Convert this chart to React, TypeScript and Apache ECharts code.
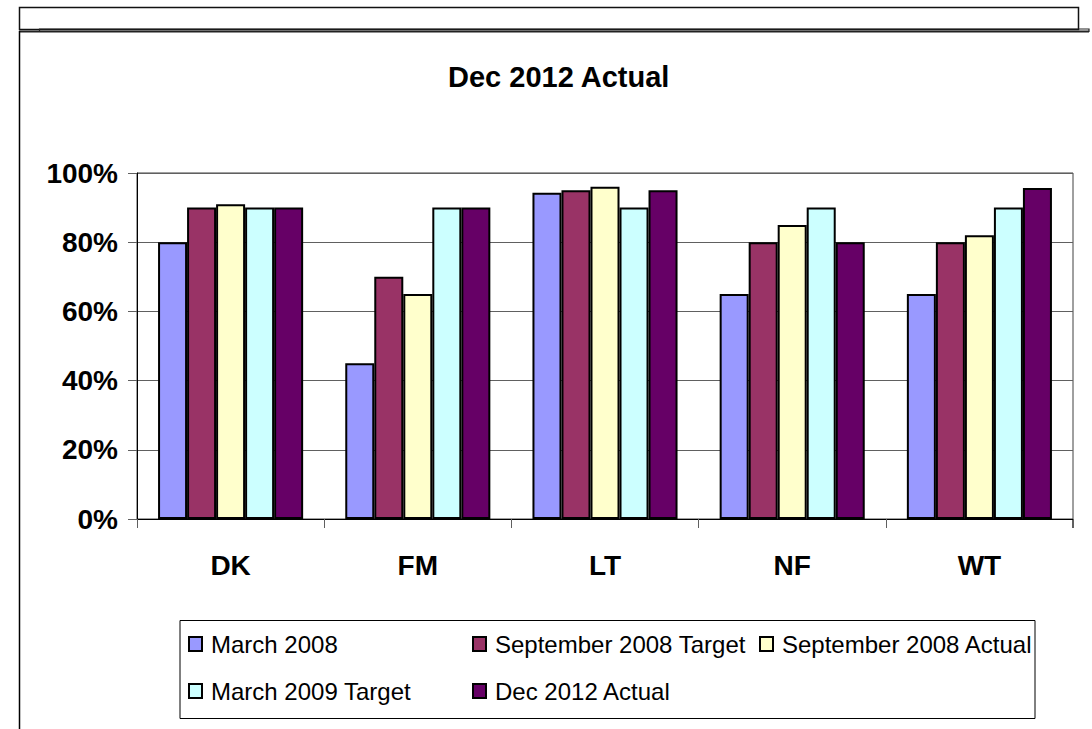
import React, { useEffect, useRef } from "react";
import * as echarts from "echarts";

const categories = ["DK", "FM", "LT", "NF", "WT"];
const seriesNames = [
  "March 2008",
  "September 2008 Target",
  "September 2008 Actual",
  "March 2009 Target",
  "Dec 2012 Actual",
];
const march2008 = [80, 45, 94.3, 65, 65];
const sep2008Target = [90, 70, 95, 80, 80];
const sep2008Actual = [91, 65, 96, 85, 82];
const mar2009Target = [90, 90, 90, 90, 90];
const dec2012Actual = [90, 90, 95, 80, 95.7];
const seriesValues = [march2008, sep2008Target, sep2008Actual, mar2009Target, dec2012Actual];
const colors = ["#9999FF", "#993366", "#FFFFCC", "#CCFFFF", "#660066"];
const yTicks = [0, 20, 40, 60, 80, 100];

const FONT = "'Liberation Sans', Arial, sans-serif";

// legend item positions (layout only)
const legendPos = [
  { left: 188, top: 632 },
  { left: 472, top: 632 },
  { left: 759, top: 632 },
  { left: 188, top: 679 },
  { left: 472, top: 679 },
];

export default function App() {
  const ref = useRef<HTMLDivElement>(null);
  useEffect(() => {
    if (!ref.current) return;
    const chart = echarts.init(ref.current, null, { renderer: "svg" });
    const option: any = {
      animation: false,
      backgroundColor: "#ffffff",
      title: {
        text: "Dec 2012 Actual",
        left: 443,
        top: 57,
        textStyle: { fontFamily: FONT, fontSize: 29, fontWeight: "bold", color: "#000" },
      },
      grid: {
        left: 137,
        top: 173,
        width: 936,
        height: 346,
        show: true,
        borderColor: "#404040",
        borderWidth: 1,
        backgroundColor: "transparent",
      },
      legend: seriesNames.map((name, i) => ({
        data: [name],
        left: legendPos[i].left,
        top: legendPos[i].top,
        padding: 0,
        icon: "rect",
        itemWidth: 13,
        itemHeight: 14,
        selectedMode: false,
        itemStyle: { borderColor: "#000", borderWidth: 2 },
        textStyle: { fontFamily: FONT, fontSize: 24, color: "#000", padding: [0, 0, 0, 4] },
      })),
      xAxis: {
        type: "category",
        data: categories,
        axisLine: { lineStyle: { color: "#000", width: 1 } },
        axisTick: { show: true, length: 9, lineStyle: { color: "#606060" } },
        axisLabel: {
          fontFamily: FONT,
          fontSize: 28,
          fontWeight: "bold",
          color: "#000",
          margin: 32,
        },
      },
      yAxis: {
        type: "value",
        min: 0,
        max: 100,
        interval: 20,
        axisLine: { show: true, lineStyle: { color: "#000", width: 1 } },
        axisTick: { show: true, length: 9, lineStyle: { color: "#606060" } },
        splitLine: { show: true, lineStyle: { color: "#606060", width: 1 } },
        axisLabel: {
          fontFamily: FONT,
          fontSize: 28,
          fontWeight: "bold",
          color: "#000",
          margin: 19,
          formatter: (v: number) => (yTicks.includes(v) ? v + "%" : ""),
        },
      },
      series: seriesNames.map((name, i) => ({
        name,
        type: "bar",
        data: seriesValues[i],
        barGap: "0%",
        barCategoryGap: "22.5%",
        itemStyle: { color: colors[i], borderColor: "#000", borderWidth: 2 },
      })),
      graphic: [
        // legend frame
        {
          type: "rect",
          shape: { x: 180, y: 620.5, width: 855, height: 98 },
          style: { fill: "none", stroke: "#000", lineWidth: 1 },
          z: 1,
        },
        // outer frame A (top)
        {
          type: "rect",
          shape: { x: 19.5, y: 7.5, width: 1059, height: 22 },
          style: { fill: "none", stroke: "#111", lineWidth: 1.5 },
        },
        // frame B top line
        {
          type: "polyline",
          shape: { points: [[39.5, 31], [39.5, 29], [1089, 29], [1089, 32]] },
          style: { fill: "none", stroke: "#222", lineWidth: 1.2 },
        },
        // main box top line
        {
          type: "line",
          shape: { x1: 19, y1: 31.5, x2: 1089, y2: 31.5 },
          style: { stroke: "#222", lineWidth: 2 },
        },
        // main box left line
        {
          type: "line",
          shape: { x1: 19.5, y1: 31, x2: 19.5, y2: 729 },
          style: { stroke: "#000", lineWidth: 1.5 },
        },
        // right plot border extension below axis
        {
          type: "line",
          shape: { x1: 1072.5, y1: 519, x2: 1072.5, y2: 528 },
          style: { stroke: "#606060", lineWidth: 1 },
        },
      ],
    };
    chart.setOption(option);
    return () => chart.dispose();
  }, []);
  return (
    <div
      ref={ref}
      style={{ position: "fixed", left: 0, top: 0, width: 1092, height: 729, background: "#fff" }}
    />
  );
}
